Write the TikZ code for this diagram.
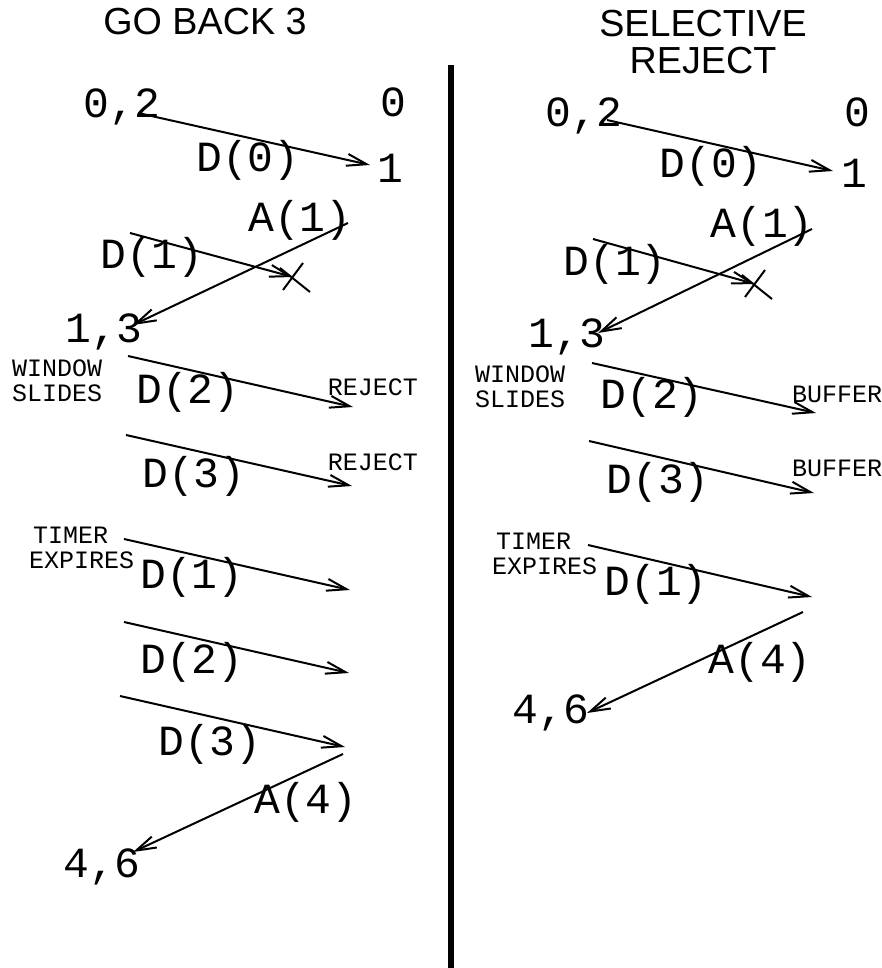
\documentclass[tikz,border=0pt]{standalone}
\usepackage{fontspec}
\setmainfont{Liberation Sans}
\newfontfamily\courfont{Liberation Mono}
\usetikzlibrary{arrows.meta}

\begin{document}
\begin{tikzpicture}[x=1pt,y=-1pt,
  lbl/.style={inner sep=0pt,anchor=base,font=\courfont\fontsize{43}{43}\selectfont},
  note/.style={inner sep=0pt,anchor=west,align=left,font=\courfont\fontsize{25}{25}\selectfont},
  head/.style={inner sep=0pt,anchor=north,align=center,font=\fontsize{37.7}{37}\selectfont},
  msg/.style={line width=2pt,-{Straight Barb[length=20pt,width=12pt]}},
  lost/.style={line width=2pt}]
\useasboundingbox (0,0) rectangle (882,968);

\node[head] (GB) at (205,8) {GO BACK 3};
\node[head] (SR) at (703,10) {SELECTIVE\\REJECT};

\coordinate (Top) at (451,65);
\coordinate (Bot) at (451,968);
\draw[line width=6.5pt] (Top) -- (Bot);

% go back 3
\node[lbl] (gwin) at (122,118) {0,2};
\node[lbl] (gz) at (393,117) {0};
\node[lbl] (go) at (390,183) {1};
\node[lbl] (gwin2) at (104,342) {1,3};
\node[lbl] (gwin3) at (102,877) {4,6};

\coordinate (g1) at (138,113); \coordinate (g2) at (370,165);
\coordinate (g3) at (348,223); \coordinate (g4) at (133,325);
\coordinate (g5) at (130,233); \coordinate (g6) at (293,277);
\coordinate (g7) at (128,356); \coordinate (g8) at (353,407);
\coordinate (g9) at (126,435); \coordinate (g10) at (352,486);
\coordinate (g11) at (124,539); \coordinate (g12) at (350,590);
\coordinate (g13) at (124,622); \coordinate (g14) at (349,673);
\coordinate (g15) at (120,696); \coordinate (g16) at (345,747);
\coordinate (g17) at (343,754); \coordinate (g18) at (133,852);

\draw[msg] (g1) -- (g2);
\draw[msg] (g3) -- (g4);
\draw[msg] (g5) -- (g6);
\draw[lost] ([shift={(-10,13)}]g6) -- ([shift={(10,-14)}]g6);
\draw[lost] ([shift={(-13,-9)}]g6) -- ([shift={(17,15)}]g6);
\draw[msg] (g7) -- (g8);
\draw[msg] (g9) -- (g10);
\draw[msg] (g11) -- (g12);
\draw[msg] (g13) -- (g14);
\draw[msg] (g15) -- (g16);
\draw[msg] (g17) -- (g18);

\node[lbl] (gd0) at (248,172) {D(0)};
\node[lbl] (ga1) at (300,232) {A(1)};
\node[lbl] (gd1) at (152,268) {D(1)};
\node[lbl] (gd2) at (188,403) {D(2)};
\node[lbl] (gd3) at (194,487) {D(3)};
\node[lbl] (gd1b) at (192,588) {D(1)};
\node[lbl] (gd2b) at (192,673) {D(2)};
\node[lbl] (gd3b) at (210,755) {D(3)};
\node[lbl] (ga4) at (306,813) {A(4)};

\node[note] (gslide) at (12,381) {WINDOW\\SLIDES};
\node[note] (gtimer) at (29,548) {\hspace*{4pt}TIMER\\EXPIRES};
\node[note,anchor=base] (grej1) at (373,395) {REJECT};
\node[note,anchor=base] (grej2) at (373,470) {REJECT};

% selective reject
\node[lbl] (swin) at (584,127) {0,2};
\node[lbl] (sz) at (857,127) {0};
\node[lbl] (so) at (854,188) {1};
\node[lbl] (swin2) at (567,347) {1,3};
\node[lbl] (swin3) at (551,723) {4,6};

\coordinate (s1) at (607,120); \coordinate (s2) at (833,171);
\coordinate (s3) at (812,229); \coordinate (s4) at (598,333);
\coordinate (s5) at (593,239); \coordinate (s6) at (755,284);
\coordinate (s7) at (592,363); \coordinate (s8) at (816,413);
\coordinate (s9) at (589,441); \coordinate (s10) at (814,493);
\coordinate (s11) at (588,545); \coordinate (s12) at (812,597);
\coordinate (s13) at (803,612); \coordinate (s14) at (587,713);

\draw[msg] (s1) -- (s2);
\draw[msg] (s3) -- (s4);
\draw[msg] (s5) -- (s6);
\draw[lost] ([shift={(-10,13)}]s6) -- ([shift={(10,-14)}]s6);
\draw[lost] ([shift={(-13,-9)}]s6) -- ([shift={(17,15)}]s6);
\draw[msg] (s7) -- (s8);
\draw[msg] (s9) -- (s10);
\draw[msg] (s11) -- (s12);
\draw[msg] (s13) -- (s14);

\node[lbl] (sd0) at (711,178) {D(0)};
\node[lbl] (sa1) at (762,237) {A(1)};
\node[lbl] (sd1) at (615,275) {D(1)};
\node[lbl] (sd2) at (652,408) {D(2)};
\node[lbl] (sd3) at (658,493) {D(3)};
\node[lbl] (sd1b) at (656,595) {D(1)};
\node[lbl] (sa4) at (760,673) {A(4)};

\node[note] (sslide) at (475,387) {WINDOW\\SLIDES};
\node[note] (stimer) at (492,554) {\hspace*{4pt}TIMER\\EXPIRES};
\node[note,anchor=base] (sbuf1) at (837,402) {BUFFER};
\node[note,anchor=base] (sbuf2) at (837,476) {BUFFER};

\end{tikzpicture}
\end{document}
